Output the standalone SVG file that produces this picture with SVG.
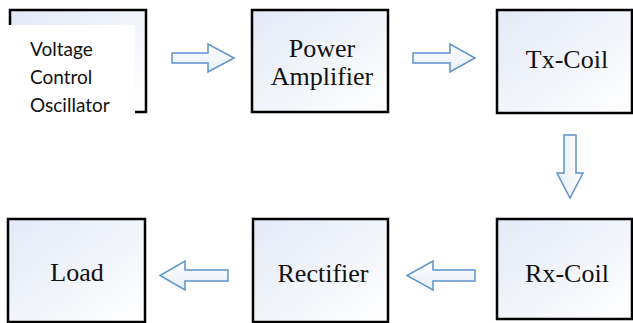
<svg xmlns="http://www.w3.org/2000/svg" width="633" height="323" viewBox="0 0 633 323">
  <defs>
    <linearGradient id="boxFill" x1="0" y1="0" x2="1" y2="1">
      <stop offset="0" stop-color="#e3e9f5"/>
      <stop offset="1" stop-color="#ffffff"/>
    </linearGradient>
    <linearGradient id="arrowFillH" x1="0" y1="0" x2="0" y2="1">
      <stop offset="0" stop-color="#ffffff"/>
      <stop offset="1" stop-color="#e6eef8"/>
    </linearGradient>
    <linearGradient id="arrowFillV" x1="0" y1="0" x2="1" y2="0">
      <stop offset="0" stop-color="#e6eef8"/>
      <stop offset="1" stop-color="#ffffff"/>
    </linearGradient>
  </defs>
  <style>
    .box { fill: url(#boxFill); stroke: #000; stroke-width: 2.5; }
    .edge { fill: none; stroke: #000; stroke-width: 2.5; }
    .lbl { font-family: "Liberation Serif", "Times New Roman", serif; font-size: 26px; fill: #111; text-anchor: middle; }
    .sans { font-family: "Lato", "Open Sans", "Liberation Sans", sans-serif; font-size: 19px; fill: #111; }
    .arrow { stroke: #5e93cb; stroke-width: 1.5; stroke-linejoin: miter; }
  </style>

  <g id="vco">
    <rect x="10" y="10" width="136" height="102" fill="url(#boxFill)" stroke="none"/>
    <rect x="0" y="25" width="135" height="98" fill="#ffffff"/>
    <path class="edge" d="M10,25 V10 H146 V112 H135"/>
    <text class="sans" x="30" y="56">Voltage</text>
    <text class="sans" x="30" y="84">Control</text>
    <text class="sans" x="30" y="112">Oscillator</text>
  </g>

  <g id="power-amplifier">
    <rect class="box" x="252" y="10" width="136" height="102"/>
    <text class="lbl" x="322" y="57">Power</text>
    <text class="lbl" x="322" y="85">Amplifier</text>
  </g>

  <g id="tx-coil">
    <rect class="box" x="497" y="10" width="135" height="103"/>
    <text class="lbl" x="567" y="68">Tx-Coil</text>
  </g>

  <g id="rx-coil">
    <rect class="box" x="497" y="219" width="135" height="100"/>
    <text class="lbl" x="567" y="282">Rx-Coil</text>
  </g>

  <g id="rectifier">
    <rect class="box" x="253" y="219" width="135" height="103"/>
    <text class="lbl" x="323" y="282">Rectifier</text>
  </g>

  <g id="load">
    <rect class="box" x="8" y="219" width="137" height="103"/>
    <text class="lbl" x="77" y="281">Load</text>
  </g>

  <g id="connectors">
    <path class="arrow" fill="url(#arrowFillH)" d="M172,53 H208 V44 L234,58 L208,72 V63 H172 Z"/>
    <path class="arrow" fill="url(#arrowFillH)" d="M413,53 H450 V44 L475,58 L450,72 V63 H413 Z"/>
    <path class="arrow" fill="url(#arrowFillV)" d="M564,135 H576 V173 H583 L570,198 L557,173 H564 Z"/>
    <path class="arrow" fill="url(#arrowFillH)" d="M475,270 H433 V261 L407,275.5 L433,290 V281 H475 Z"/>
    <path class="arrow" fill="url(#arrowFillH)" d="M228,270 H185 V261 L160,275.5 L185,290 V281 H228 Z"/>
  </g>
</svg>
